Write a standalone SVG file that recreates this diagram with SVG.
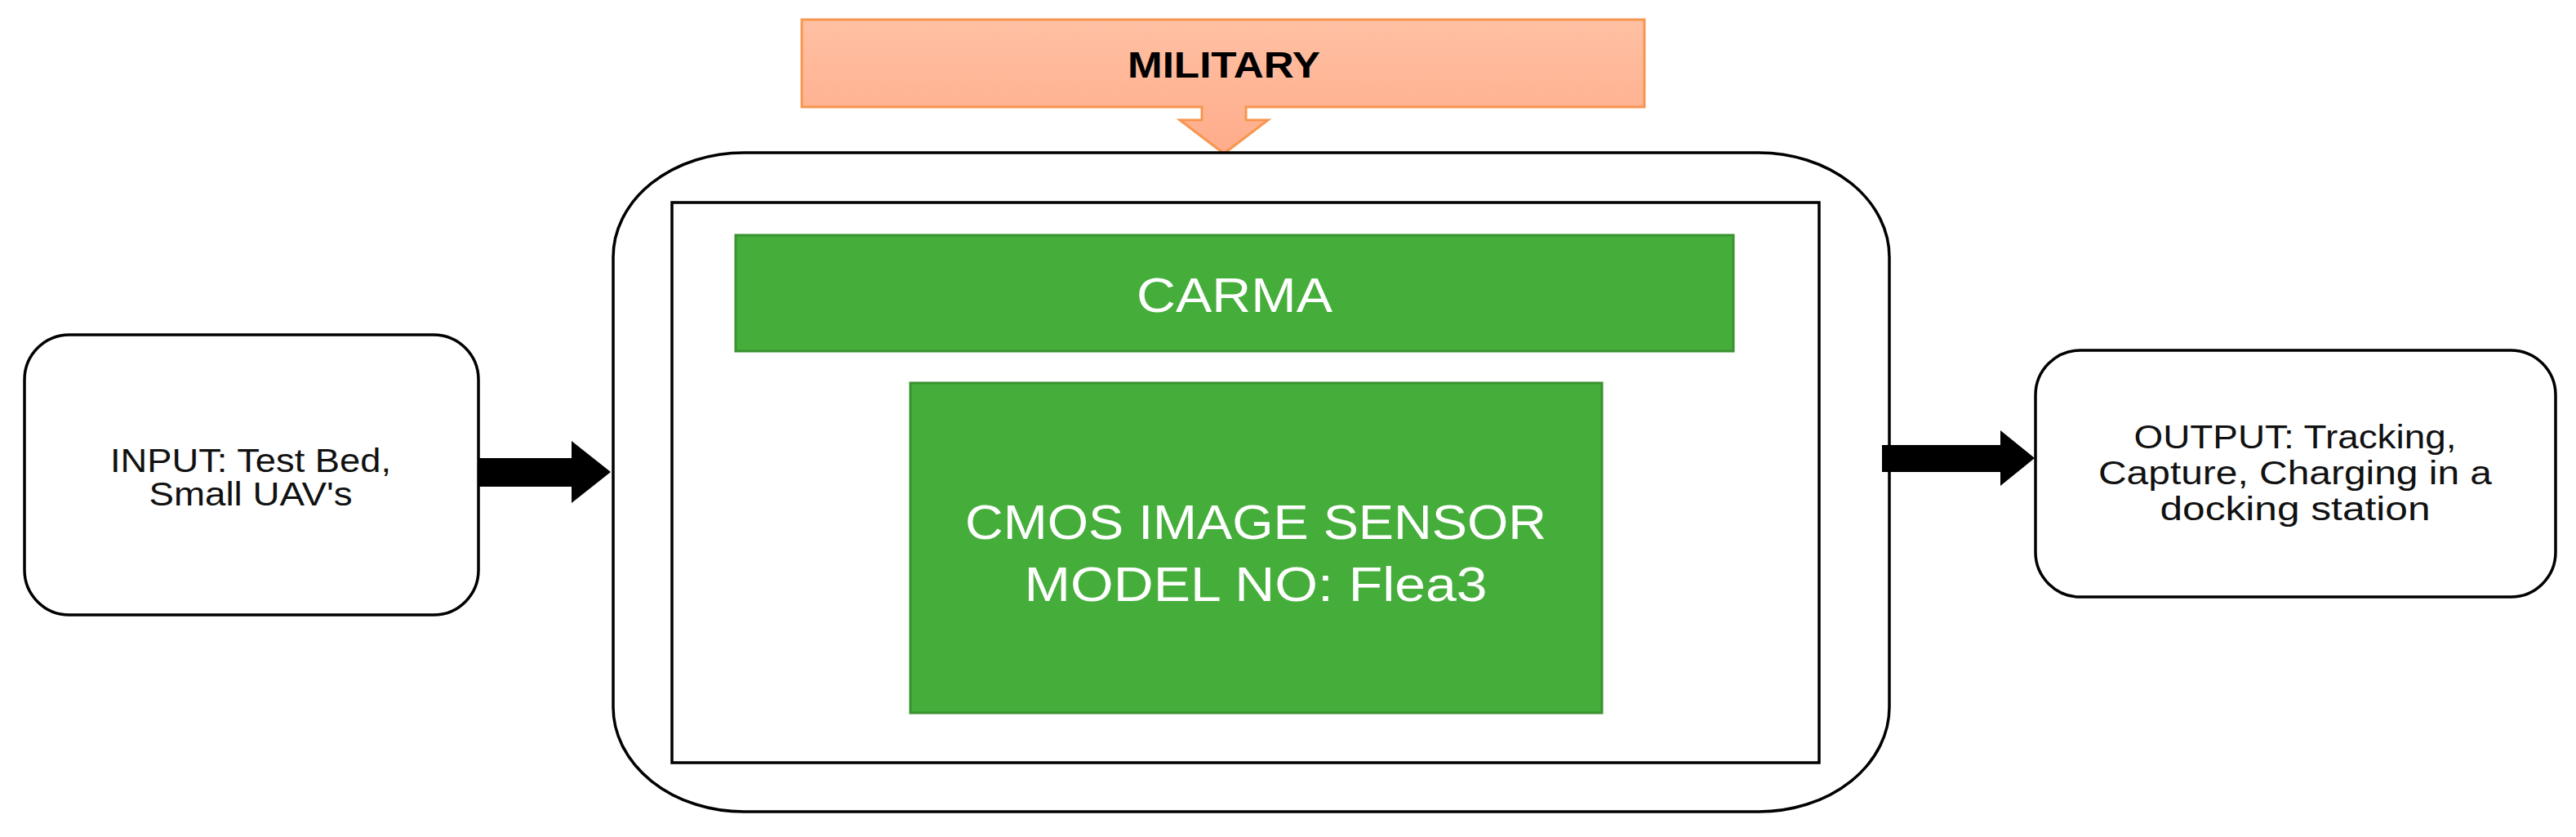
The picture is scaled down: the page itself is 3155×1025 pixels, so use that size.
<svg xmlns="http://www.w3.org/2000/svg" width="3155" height="1025" viewBox="0 0 3155 1025">
<defs>
<linearGradient id="peach" gradientUnits="userSpaceOnUse" x1="0" y1="24" x2="0" y2="188">
<stop offset="0" stop-color="#FFC0A3"/>
<stop offset="1" stop-color="#FFAC8A"/>
</linearGradient>
<style>
.box{fill:#FFFFFF;stroke:#000000;stroke-width:3.5}
.green{fill:#45AE3B;stroke:#3A9130;stroke-width:3}
.arrow{fill:#000000;stroke:none}
.t{font-family:"Liberation Sans",Arial,sans-serif;text-anchor:middle}
.dark{fill:#111111;font-size:40px}
.white{fill:#FFFFFF;font-size:60px}
</style>
</defs>
<rect width="3155" height="1025" fill="#FFFFFF"/>
<g id="military">
<path d="M982,24 H2014 V131 H1526 V147 H1553 L1499,188 L1445,147 H1472 V131 H982 Z" fill="url(#peach)" stroke="#F7964F" stroke-width="3"/>
<text class="t" x="1499" y="95" font-size="45" font-weight="bold" fill="#000000" textLength="236" lengthAdjust="spacingAndGlyphs">MILITARY</text>
</g>
<g id="system">
<rect class="box" x="751" y="187" width="1563" height="807" rx="160" ry="128" stroke-width="4"/>
<rect class="box" x="823" y="248" width="1405" height="686" stroke-width="4"/>
</g>
<g id="carma">
<rect class="green" x="901" y="288" width="1222" height="142"/>
<text class="t white" x="1512" y="382" textLength="240" lengthAdjust="spacingAndGlyphs">CARMA</text>
</g>
<g id="cmos">
<rect class="green" x="1115" y="469" width="847" height="404"/>
<text class="t white" x="1538" y="660" textLength="712" lengthAdjust="spacingAndGlyphs">CMOS IMAGE SENSOR</text>
<text class="t white" x="1538" y="736" textLength="567" lengthAdjust="spacingAndGlyphs">MODEL NO: Flea3</text>
</g>
<g id="input">
<rect class="box" x="30" y="410" width="556" height="343" rx="55" ry="55"/>
<text class="t dark" x="307" y="578" textLength="344" lengthAdjust="spacingAndGlyphs">INPUT: Test Bed,</text>
<text class="t dark" x="307" y="619" textLength="249" lengthAdjust="spacingAndGlyphs">Small UAV's</text>
</g>
<g id="output">
<rect class="box" x="2493" y="429" width="637" height="302" rx="55" ry="55"/>
<text class="t dark" x="2811" y="549" textLength="395" lengthAdjust="spacingAndGlyphs">OUTPUT: Tracking,</text>
<text class="t dark" x="2811" y="593" textLength="482" lengthAdjust="spacingAndGlyphs">Capture, Charging in a</text>
<text class="t dark" x="2811" y="637" textLength="331" lengthAdjust="spacingAndGlyphs">docking station</text>
</g>
<g id="connectors">
<polygon class="arrow" points="586,561 700,561 700,540 748,578 700,616 700,596 586,596"/>
<polygon class="arrow" points="2305,545 2450,545 2450,527 2492,561 2450,595 2450,578 2305,578"/>
</g>
</svg>
